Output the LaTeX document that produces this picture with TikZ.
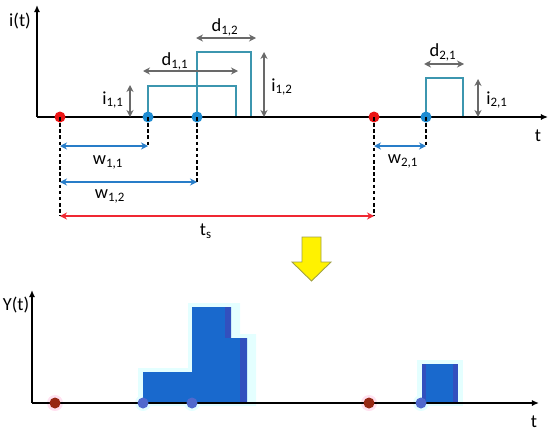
\documentclass[tikz,border=0pt]{standalone}
\usepackage{fontspec}
\setmainfont{Carlito}
\usetikzlibrary{arrows.meta,positioning}
\definecolor{pulseteal}{RGB}{60,150,175}
\definecolor{dimgray}{RGB}{105,105,105}
\definecolor{wblue}{RGB}{40,125,200}
\definecolor{tsred}{RGB}{240,40,50}
\definecolor{dotblue}{RGB}{30,140,210}
\definecolor{dotred}{RGB}{235,20,20}
\definecolor{barblue}{RGB}{25,105,205}
\definecolor{bardark}{RGB}{50,80,190}
\definecolor{glowcyan}{RGB}{228,255,255}
\definecolor{glowpink}{RGB}{255,225,240}
\definecolor{ydotblue}{RGB}{80,105,205}
\definecolor{ydotred}{RGB}{150,40,20}
\definecolor{yarrowedge}{RGB}{160,160,70}

\begin{document}
\begin{tikzpicture}[
  x=0.02cm, y=-0.02cm,
  axis/.style={-{Latex[length=4pt,width=3.5pt]}, line width=1pt, black},
  pulse/.style={pulseteal, line width=0.8pt},
  gdim/.style={{Stealth[length=4pt,width=4pt]}-{Stealth[length=4pt,width=4pt]}, dimgray, line width=0.9pt},
  wdim/.style={gdim, wblue},
  tdim/.style={gdim, tsred},
  drop/.style={dashed, dash pattern=on 2pt off 1.5pt, line width=0.6pt},
  dot/.style={circle, inner sep=0pt, minimum size=0.22cm, fill=#1},
  halo/.style={circle, inner sep=0pt, minimum size=0.32cm, fill=#1},
  lbl/.style={font=\fontsize{10.5}{12}\selectfont, inner sep=1pt},
]
\useasboundingbox (0,0) rectangle (550,436);

% ---- top: pulse trains ----
\coordinate (o1)    at (37,117);
\coordinate (ytop1) at (37,5);
\coordinate (xend1) at (548,117);

\draw[pulse] (148,117) |- (236,86) -- (236,117);
\draw[pulse] (197,117) |- (251,52) -- (251,117);
\draw[pulse] (426,117) |- (463,78) -- (463,117);

\draw[axis] (o1) -- (ytop1);
\draw[axis] (o1) -- (xend1);

\node[lbl] (ilab) at (20,21)  {i(t)};
\node[lbl] (tlab) at (538,136) {t};

% dimension ends
\coordinate (ts0) at (60,216);
\coordinate (ts1) at (374,216);
\coordinate (w11a) at (60,146);
\coordinate (w11b) at (148,146);
\coordinate (w12a) at (60,182);
\coordinate (w12b) at (197,182);
\coordinate (w21a) at (374,146);
\coordinate (w21b) at (426,146);

\node[dot=dotred]  (r1)  at (60,117)  {};
\node[dot=dotblue] (b11) at (148,117) {};
\node[dot=dotblue] (b12) at (197,117) {};
\node[dot=dotred]  (r2)  at (374,117) {};
\node[dot=dotblue] (b21) at (426,117) {};

\draw[drop] (r1.center)  -- (ts0);
\draw[drop] (b11.center) -- (w11b);
\draw[drop] (b12.center) -- (w12b);
\draw[drop] (r2.center)  -- (ts1);
\draw[drop] (b21.center) -- (w21b);

\draw[wdim] (w11a) -- (w11b);
\draw[wdim] (w12a) -- (w12b);
\draw[wdim] (w21a) -- (w21b);
\draw[tdim] (ts0) -- (ts1);

\node[lbl] (w11lab) at (108,162) {w\textsubscript{1,1}};
\node[lbl] (w12lab) at (110,196) {w\textsubscript{1,2}};
\node[lbl] (w21lab) at (403,161) {w\textsubscript{2,1}};
\node[lbl] (tslab)  at (206,231) {t\textsubscript{s}};

% widths and heights
\coordinate (d12a) at (196,38);  \coordinate (d12b) at (256,38);
\coordinate (d11a) at (143,71);  \coordinate (d11b) at (238,71);
\coordinate (d21a) at (424,64);  \coordinate (d21b) at (464,64);
\coordinate (i11a) at (130,85);  \coordinate (i11b) at (130,117);
\coordinate (i12a) at (264,52);  \coordinate (i12b) at (264,117);
\coordinate (i21a) at (478,79);  \coordinate (i21b) at (478,117);

\draw[gdim] (d12a) -- (d12b);
\draw[gdim] (d11a) -- (d11b);
\draw[gdim] (d21a) -- (d21b);
\draw[gdim] (i11a) -- (i11b);
\draw[gdim] (i12a) -- (i12b);
\draw[gdim] (i21a) -- (i21b);

\node[lbl] (d12lab) at (225,27)  {d\textsubscript{1,2}};
\node[lbl] (d11lab) at (175,61)  {d\textsubscript{1,1}};
\node[lbl] (d21lab) at (443,52)  {d\textsubscript{2,1}};
\node[lbl] (i11lab) at (113,100) {i\textsubscript{1,1}};
\node[lbl] (i12lab) at (282,87)  {i\textsubscript{1,2}};
\node[lbl] (i21lab) at (497,100) {i\textsubscript{2,1}};

% ---- yellow arrow ----
\draw[yarrowedge, fill=yellow, line width=0.5pt]
  (302,237) -- (321,237) -- (321,262) -- (331,262) -- (311.5,281)
  -- (292,262) -- (302,262) -- cycle;

% ---- bottom: sum signal ----
\coordinate (o2)    at (32,403);
\coordinate (ytop2) at (32,290);
\coordinate (xend2) at (539,403);

\node[halo=glowpink] at (55,403)  {};
\node[halo=glowcyan] at (143,403) {};
\node[halo=glowcyan] at (192,403) {};
\node[halo=glowpink] at (369,403) {};
\node[halo=glowcyan] at (421,403) {};

\fill[glowcyan] (138,406) -- (138,368) -- (188,368) -- (188,303)
  -- (240,303) -- (240,334) -- (256,334) -- (256,406) -- cycle;
\fill[glowcyan] (417,360) rectangle (463,406);

\fill[barblue] (143,403) |- (192,372) |- (231,307) |- (247,338) -- (247,403) -- cycle;
\fill[bardark] (225,307) rectangle (231,338);
\fill[bardark] (240,338) rectangle (247,403);
\fill[barblue] (422,364) rectangle (458,403);
\fill[bardark] (422,364) rectangle (426,403);
\fill[bardark] (453,364) rectangle (458,403);

\draw[axis] (o2) -- (ytop2);
\draw[axis] (o2) -- (xend2);

\node[lbl] (ylab)  at (16,305) {Y(t)};
\node[lbl] (tlab2) at (534,422) {t};

\node[dot=ydotred]  (yr1)  at (55,403)  {};
\node[dot=ydotblue] (yb11) at (143,403) {};
\node[dot=ydotblue] (yb12) at (192,403) {};
\node[dot=ydotred]  (yr2)  at (369,403) {};
\node[dot=ydotblue] (yb21) at (421,403) {};

\end{tikzpicture}
\end{document}
